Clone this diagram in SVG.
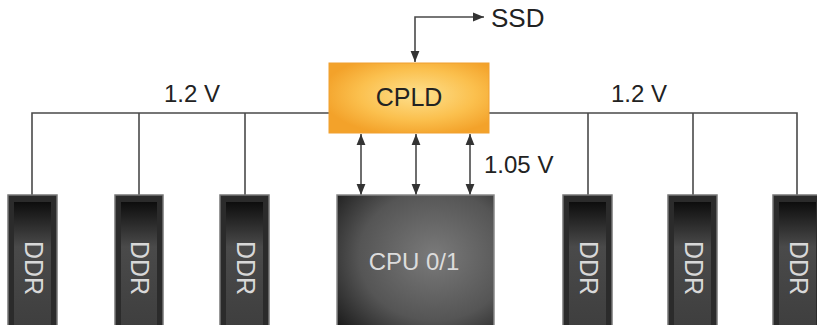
<svg xmlns="http://www.w3.org/2000/svg" width="817" height="325" viewBox="0 0 817 325">
<defs>
<radialGradient id="cpldG" cx="0.55" cy="0.45" r="0.6">
<stop offset="0" stop-color="#fde08e"/>
<stop offset="0.6" stop-color="#fbc04e"/>
<stop offset="1" stop-color="#f3a22a"/>
</radialGradient>
<linearGradient id="ddrG" x1="0" y1="0" x2="0" y2="1">
<stop offset="0" stop-color="#0d0d0d"/>
<stop offset="0.35" stop-color="#4a4a4a"/>
<stop offset="1" stop-color="#3e3e3e"/>
</linearGradient>
<radialGradient id="cpuG" cx="0.62" cy="0.45" r="0.8">
<stop offset="0" stop-color="#7a7a7a"/>
<stop offset="0.6" stop-color="#555"/>
<stop offset="1" stop-color="#1c1c1c"/>
</radialGradient>
<marker id="ah" viewBox="0 0 10 10" refX="10" refY="5" markerWidth="7" markerHeight="7" orient="auto-start-reverse">
<path d="M0,1 L10,5 L0,9 Z" fill="#333"/>
</marker>
<style>
.ln{stroke:#4a4a4a;stroke-width:1.6;fill:none}
.lbl{font-family:"Liberation Sans",Arial,sans-serif;font-size:24px;fill:#222}
.wt{font-family:"Liberation Sans",Arial,sans-serif;font-size:24px;fill:#dcdcdc}
.ddrT{font-family:"Liberation Sans",Arial,sans-serif;font-size:25px;fill:#d8d8d8}
.ddrO{fill:#2b2b2b;stroke:#777;stroke-width:1.5}
.ddrI{fill:url(#ddrG)}
</style>
</defs>
<g id="connectors">
<polyline class="ln" points="32,195 32,113 329,113"/>
<line class="ln" x1="139" y1="113" x2="139" y2="195"/>
<line class="ln" x1="245" y1="113" x2="245" y2="195"/>
<polyline class="ln" points="489,113 797,113 797,195"/>
<line class="ln" x1="588" y1="113" x2="588" y2="195"/>
<line class="ln" x1="693" y1="113" x2="693" y2="195"/>
<polyline class="ln" points="415,62 415,17 484,17" marker-start="url(#ah)" marker-end="url(#ah)"/>
<line class="ln" x1="361" y1="134" x2="361" y2="195" marker-start="url(#ah)" marker-end="url(#ah)"/>
<line class="ln" x1="416" y1="134" x2="416" y2="195" marker-start="url(#ah)" marker-end="url(#ah)"/>
<line class="ln" x1="470" y1="134" x2="470" y2="195" marker-start="url(#ah)" marker-end="url(#ah)"/>
<text class="lbl" x="164" y="102">1.2 V</text>
<text class="lbl" x="611" y="102">1.2 V</text>
<text class="lbl" x="484" y="173">1.05 V</text>
</g>
<g id="ssd"><text class="lbl" x="491" y="27" style="font-size:26px">SSD</text></g>
<g id="cpld">
<rect x="329" y="63" width="160" height="70" fill="url(#cpldG)" stroke="#f0a030" stroke-width="1"/>
<text class="lbl" x="409" y="106" text-anchor="middle" style="font-size:25px">CPLD</text>
</g>
<g id="cpu">
<rect x="337" y="195" width="157" height="135" fill="url(#cpuG)" stroke="#888" stroke-width="1.5"/>
<text class="wt" x="414" y="270" text-anchor="middle">CPU 0/1</text>
</g>
<g id="ddr1"><rect class="ddrO" x="8" y="195" width="49" height="135"/><rect class="ddrI" x="14" y="202" width="37" height="128"/><text class="ddrT" transform="translate(25,268) rotate(90)" text-anchor="middle">DDR</text></g>
<g id="ddr2"><rect class="ddrO" x="115" y="195" width="48" height="135"/><rect class="ddrI" x="121" y="202" width="36" height="128"/><text class="ddrT" transform="translate(131,268) rotate(90)" text-anchor="middle">DDR</text></g>
<g id="ddr3"><rect class="ddrO" x="220" y="195" width="49" height="135"/><rect class="ddrI" x="226" y="202" width="37" height="128"/><text class="ddrT" transform="translate(237,268) rotate(90)" text-anchor="middle">DDR</text></g>
<g id="ddr4"><rect class="ddrO" x="563" y="195" width="49" height="135"/><rect class="ddrI" x="569" y="202" width="37" height="128"/><text class="ddrT" transform="translate(580,268) rotate(90)" text-anchor="middle">DDR</text></g>
<g id="ddr5"><rect class="ddrO" x="668" y="195" width="49" height="135"/><rect class="ddrI" x="674" y="202" width="37" height="128"/><text class="ddrT" transform="translate(685,268) rotate(90)" text-anchor="middle">DDR</text></g>
<g id="ddr6"><rect class="ddrO" x="773" y="195" width="49" height="135"/><rect class="ddrI" x="779" y="202" width="37" height="128"/><text class="ddrT" transform="translate(790,268) rotate(90)" text-anchor="middle">DDR</text></g>
</svg>
